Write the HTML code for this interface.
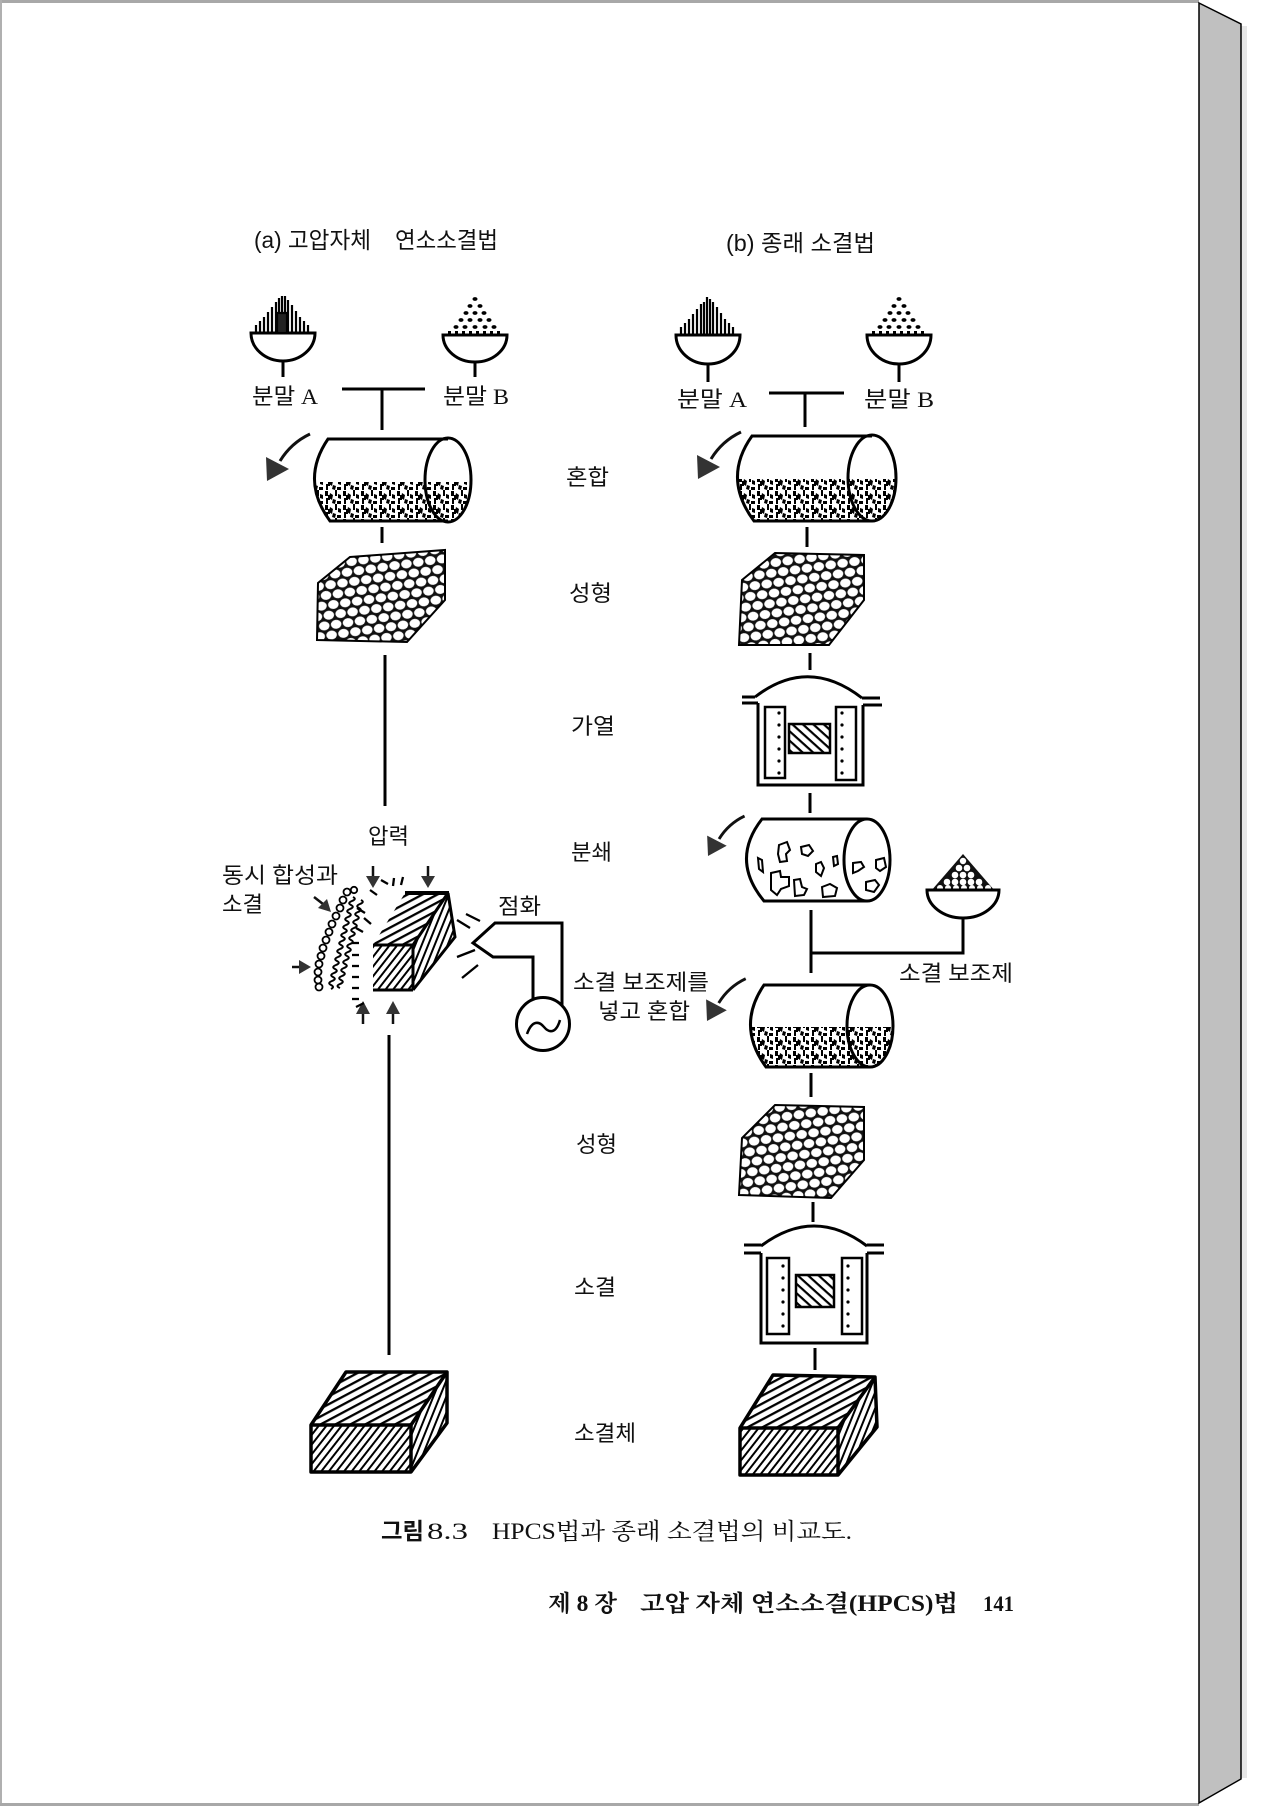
<!DOCTYPE html>
<html><head><meta charset="utf-8"><style>
html,body{margin:0;padding:0;background:#fff;}
svg{display:block;}
.lbl{font-family:"Liberation Serif","Noto Sans CJK KR",serif;font-size:22px;fill:#111;}
.ttl{font-family:"Liberation Sans","Noto Sans CJK KR",sans-serif;font-size:23px;fill:#111;}
</style></head><body>
<svg width="1273" height="1806" viewBox="0 0 1273 1806" xmlns="http://www.w3.org/2000/svg">
<defs>
<pattern id="hTop" width="7" height="7" patternUnits="userSpaceOnUse" patternTransform="rotate(-28)"><rect width="7" height="2.3" fill="#000"/></pattern>
<pattern id="hFront" width="6" height="6" patternUnits="userSpaceOnUse" patternTransform="rotate(-52)"><rect width="6" height="2" fill="#000"/></pattern>
<pattern id="hSide" width="6" height="6" patternUnits="userSpaceOnUse" patternTransform="rotate(-68)"><rect width="6" height="2" fill="#000"/></pattern>
<pattern id="hSamp" width="7" height="7" patternUnits="userSpaceOnUse" patternTransform="rotate(42)"><rect width="7" height="2.2" fill="#000"/></pattern>
<pattern id="peb" width="12" height="20" patternUnits="userSpaceOnUse" patternTransform="rotate(-8)">
<rect width="12" height="20" fill="#111"/>
<ellipse cx="6" cy="5" rx="5.3" ry="4.5" fill="#fff"/>
<ellipse cx="0" cy="15" rx="5.3" ry="4.5" fill="#fff"/>
<ellipse cx="12" cy="15" rx="5.3" ry="4.5" fill="#fff"/>
</pattern>
<pattern id="mot" width="18" height="14" patternUnits="userSpaceOnUse">
<rect width="18" height="14" fill="#fff"/>
<path d="M1 1h3v5h-3z M6 3l3 2-1 5-3-2z M11 0h2v6h-2z M14 4l3 1v4l-3-1z M2 8h4v2h-2v4h-2z M9 9l3 1-1 4-3-1z M13 11h4v3h-4z M4 5h2v3h-2z" fill="#000"/>
</pattern>
<clipPath id="cL"><path d="M448,439 L328,439 Q300,480 330,521 L448,521 Z"/><ellipse cx="448" cy="480" rx="23" ry="42"/></clipPath>
<clipPath id="cR1"><path d="M872,436 L752,436 Q722,478 754,521 L872,521 Z"/><ellipse cx="872" cy="478" rx="24" ry="43"/></clipPath>
<clipPath id="cR3"><path d="M870,985 L764,985 Q736,1026 766,1067 L870,1067 Z"/><ellipse cx="870" cy="1026" rx="23" ry="41"/></clipPath>
<clipPath id="pk1"><polygon points="350,557 445,550 445,600 407,642 317,640 318,583"/></clipPath>
<clipPath id="pk2"><polygon points="775,553 864,555 864,600 829,645 739,645 742,580"/></clipPath>
<clipPath id="pk3"><polygon points="775,1105 864,1107 864,1160 831,1198 739,1195 742,1138"/></clipPath>
</defs>

<!-- page frame -->
<rect x="0" y="0" width="1199" height="3" fill="#a8a8a8"/>
<rect x="0" y="0" width="2" height="1806" fill="#b0b0b0"/>
<rect x="0" y="1803" width="1199" height="3" fill="#a8a8a8"/>
<rect x="1241" y="26" width="6" height="1752" fill="#e6e6e6"/>
<polygon points="1199,3 1241,24 1241,1779 1199,1803" fill="#c0c0c0" stroke="#000" stroke-width="1.5"/>

<!-- titles -->
<text class="ttl" x="254" y="248" textLength="117" lengthAdjust="spacingAndGlyphs">(a) 고압자체</text>
<text class="ttl" x="395" y="248" textLength="103" lengthAdjust="spacingAndGlyphs">연소소결법</text>
<text class="ttl" x="726" y="251" textLength="149" lengthAdjust="spacingAndGlyphs">(b) 종래 소결법</text>

<g fill="none" stroke="#000" stroke-width="3" stroke-linecap="butt">
<!-- bowls -->
<path d="M251,333 L315,333 A32,28 0 0 1 251,333 Z"/><line x1="283" y1="361" x2="283" y2="377"/>
<path d="M443,335 L507,335 A32,27 0 0 1 443,335 Z"/><line x1="475" y1="362" x2="475" y2="377"/>
<path d="M676,335 L740,335 A32,29 0 0 1 676,335 Z"/><line x1="708" y1="364" x2="708" y2="382"/>
<path d="M867,335 L931,335 A32,29 0 0 1 867,335 Z"/><line x1="899" y1="364" x2="899" y2="382"/>
<!-- T connectors -->
<line x1="342" y1="389" x2="425" y2="389"/><line x1="382" y1="389" x2="382" y2="430"/>
<line x1="769" y1="393" x2="844" y2="393"/><line x1="805" y1="393" x2="805" y2="427"/>
<!-- left connectors -->
<line x1="382" y1="527" x2="382" y2="543"/>
<line x1="385" y1="655" x2="385" y2="806"/>
<line x1="389" y1="1035" x2="389" y2="1355"/>
<!-- right connectors -->
<line x1="807" y1="527" x2="807" y2="547"/>
<line x1="810" y1="653" x2="810" y2="670"/>
<line x1="810" y1="793" x2="810" y2="813"/>
<line x1="811" y1="910" x2="811" y2="973"/>
<polyline points="811,953 963,953 963,918"/>
<line x1="811" y1="1073" x2="811" y2="1097"/>
<line x1="813" y1="1202" x2="813" y2="1222"/>
<line x1="815" y1="1348" x2="815" y2="1370"/>
</g>

<!-- powders A -->
<g stroke="#000" stroke-width="2.2" fill="none">
<g transform="translate(283,333)">
<path d="M-27,0v-8 M-23,0v-12 M-19,0v-16 M-15,0v-21 M-11,0v-26 M-7,0v-31 M-4,0v-35 M-1,0v-37 M2,0v-37 M5,0v-33 M9,0v-28 M13,0v-22 M17,0v-16 M21,0v-12 M25,0v-8"/>
<path d="M-6,0v-20h10v20z" fill="#222"/>
</g>
<g transform="translate(708,335)">
<path d="M-27,0v-8 M-23,0v-12 M-19,0v-16 M-15,0v-21 M-11,0v-26 M-7,0v-31 M-4,0v-33 M-1,0v-38 M2,0v-36 M5,0v-33 M9,0v-28 M13,0v-22 M17,0v-16 M21,0v-12 M25,0v-8"/>
</g>
</g>
<!-- powders B -->
<g fill="#000">
<g transform="translate(475,335)">
<ellipse cx="0" cy="-36" rx="2.5" ry="1.9"/>
<ellipse cx="-5" cy="-29" rx="2.5" ry="1.9"/><ellipse cx="5" cy="-29" rx="2.5" ry="1.9"/>
<ellipse cx="-9" cy="-22" rx="2.5" ry="1.9"/><ellipse cx="0" cy="-22" rx="2.5" ry="1.9"/><ellipse cx="9" cy="-22" rx="2.5" ry="1.9"/>
<ellipse cx="-14" cy="-15" rx="2.5" ry="1.9"/><ellipse cx="-5" cy="-15" rx="2.5" ry="1.9"/><ellipse cx="5" cy="-15" rx="2.5" ry="1.9"/><ellipse cx="14" cy="-15" rx="2.5" ry="1.9"/>
<ellipse cx="-19" cy="-8" rx="2.5" ry="1.9"/><ellipse cx="-10" cy="-8" rx="2.5" ry="1.9"/><ellipse cx="0" cy="-8" rx="2.5" ry="1.9"/><ellipse cx="10" cy="-8" rx="2.5" ry="1.9"/><ellipse cx="19" cy="-8" rx="2.5" ry="1.9"/>
<path d="M-27,0v-4h3v4z M-20,0v-4h3v4z M-13,0v-4h3v4z M-6,0v-4h3v4z M1,0v-4h3v4z M8,0v-4h3v4z M15,0v-4h3v4z M22,0v-4h3v4z"/>
</g>
<g transform="translate(899,335)">
<ellipse cx="0" cy="-36" rx="2.5" ry="1.9"/>
<ellipse cx="-5" cy="-29" rx="2.5" ry="1.9"/><ellipse cx="5" cy="-29" rx="2.5" ry="1.9"/>
<ellipse cx="-9" cy="-22" rx="2.5" ry="1.9"/><ellipse cx="0" cy="-22" rx="2.5" ry="1.9"/><ellipse cx="9" cy="-22" rx="2.5" ry="1.9"/>
<ellipse cx="-14" cy="-15" rx="2.5" ry="1.9"/><ellipse cx="-5" cy="-15" rx="2.5" ry="1.9"/><ellipse cx="5" cy="-15" rx="2.5" ry="1.9"/><ellipse cx="14" cy="-15" rx="2.5" ry="1.9"/>
<ellipse cx="-19" cy="-8" rx="2.5" ry="1.9"/><ellipse cx="-10" cy="-8" rx="2.5" ry="1.9"/><ellipse cx="0" cy="-8" rx="2.5" ry="1.9"/><ellipse cx="10" cy="-8" rx="2.5" ry="1.9"/><ellipse cx="19" cy="-8" rx="2.5" ry="1.9"/>
<path d="M-27,0v-4h3v4z M-20,0v-4h3v4z M-13,0v-4h3v4z M-6,0v-4h3v4z M1,0v-4h3v4z M8,0v-4h3v4z M15,0v-4h3v4z M22,0v-4h3v4z"/>
</g>
</g>

<!-- cylinder contents -->
<rect x="300" y="482" width="175" height="42" fill="url(#mot)" clip-path="url(#cL)"/>
<rect x="720" y="479" width="180" height="45" fill="url(#mot)" clip-path="url(#cR1)"/>
<rect x="735" y="1027" width="165" height="43" fill="url(#mot)" clip-path="url(#cR3)"/>

<!-- cylinders -->
<g fill="none" stroke="#000" stroke-width="3">
<path d="M448,439 L328,439 Q300,480 330,521 L448,521"/><ellipse cx="448" cy="480" rx="23" ry="42"/>
<path d="M872,436 L752,436 Q722,478 754,521 L872,521"/><ellipse cx="872" cy="478" rx="24" ry="43"/>
<path d="M867,819 L762,819 Q730,860 764,901 L867,901"/><ellipse cx="867" cy="860" rx="23" ry="41"/>
<path d="M870,985 L764,985 Q736,1026 766,1067 L870,1067"/><ellipse cx="870" cy="1026" rx="23" ry="41"/>
</g>
<!-- crushed chunks -->
<g fill="#fff" stroke="#000" stroke-width="2">
<path d="M758,858 l4,2 1,12 -4,-3z"/>
<path d="M779,845 l8,-3 3,8 -4,4 1,7 -7,1 -2,-8z"/>
<path d="M801,847 l8,-2 4,6 -5,5 -6,-2z"/>
<path d="M816,864 l5,-2 3,6 -3,8 -5,-4z"/>
<path d="M833,857 l4,-1 1,8 -4,2z"/>
<path d="M771,873 l9,-2 1,6 8,0 0,9 -8,3 -4,6 -6,-5z"/>
<path d="M794,880 l6,-1 2,8 5,2 -3,6 -9,1z"/>
<path d="M822,887 l8,-3 7,4 -2,8 -12,1z"/>
<path d="M853,863 l8,-1 3,5 -6,4 -5,2z"/>
<path d="M876,860 l8,-2 2,9 -6,4 -4,-3z"/>
<path d="M866,882 l9,-2 4,5 -5,7 -8,-2z"/>
</g>

<!-- arrows -->
<g fill="#333" stroke="#111">
<g transform="translate(267,481)"><path d="M43,-47 Q24,-38 13,-20" fill="none" stroke-width="3"/><polygon points="0,0 -1,-24 22,-12" stroke="none"/></g>
<g transform="translate(698,479)"><path d="M43,-47 Q24,-38 13,-20" fill="none" stroke-width="3"/><polygon points="0,0 -1,-24 22,-12" stroke="none"/></g>
<g transform="translate(708,856) scale(0.85)"><path d="M43,-47 Q24,-38 13,-20" fill="none" stroke-width="3.4"/><polygon points="0,0 -1,-24 22,-12" stroke="none"/></g>
<g transform="translate(707,1021) scale(0.9)"><path d="M43,-47 Q24,-38 13,-20" fill="none" stroke-width="3.2"/><polygon points="0,0 -1,-24 22,-12" stroke="none"/></g>
</g>

<!-- compacts -->
<rect x="310" y="545" width="140" height="100" fill="url(#peb)" clip-path="url(#pk1)"/>
<polygon points="350,557 445,550 445,600 407,642 317,640 318,583" fill="none" stroke="#000" stroke-width="2"/>
<rect x="735" y="550" width="135" height="100" fill="url(#peb)" clip-path="url(#pk2)"/>
<polygon points="775,553 864,555 864,600 829,645 739,645 742,580" fill="none" stroke="#000" stroke-width="2"/>
<rect x="735" y="1100" width="135" height="100" fill="url(#peb)" clip-path="url(#pk3)"/>
<polygon points="775,1105 864,1107 864,1160 831,1198 739,1195 742,1138" fill="none" stroke="#000" stroke-width="2"/>

<!-- furnaces -->
<g fill="none" stroke="#000" stroke-width="3">
<path d="M755,697 Q808,656 862,698"/>
<line x1="742" y1="697" x2="755" y2="697"/><line x1="742" y1="703" x2="758" y2="703"/>
<line x1="862" y1="698" x2="880" y2="698"/><line x1="863" y1="705" x2="882" y2="705"/>
<polyline points="758,703 758,785 863,785 863,705"/>
<rect x="765" y="707" width="20" height="71" stroke-width="2.5"/>
<rect x="836" y="707" width="20" height="73" stroke-width="2.5"/>
<path d="M761,1246 Q814,1206 867,1246"/>
<line x1="744" y1="1245" x2="761" y2="1245"/><line x1="744" y1="1253" x2="761" y2="1253"/>
<line x1="867" y1="1245" x2="884" y2="1245"/><line x1="867" y1="1253" x2="884" y2="1253"/>
<polyline points="761,1253 761,1343 867,1343 867,1253"/>
<rect x="767" y="1258" width="22" height="76" stroke-width="2.5"/>
<rect x="842" y="1258" width="20" height="76" stroke-width="2.5"/>
</g>
<rect x="789" y="724" width="41" height="29" fill="url(#hSamp)" stroke="#000" stroke-width="2.5"/>
<rect x="796" y="1275" width="38" height="32" fill="url(#hSamp)" stroke="#000" stroke-width="2.5"/>
<g fill="#000">
<circle cx="779" cy="713" r="1.6"/><circle cx="779" cy="725" r="1.6"/><circle cx="779" cy="737" r="1.6"/><circle cx="779" cy="749" r="1.6"/><circle cx="779" cy="761" r="1.6"/><circle cx="779" cy="773" r="1.6"/>
<circle cx="842" cy="713" r="1.6"/><circle cx="842" cy="725" r="1.6"/><circle cx="842" cy="737" r="1.6"/><circle cx="842" cy="749" r="1.6"/><circle cx="842" cy="761" r="1.6"/><circle cx="842" cy="773" r="1.6"/>
<circle cx="783" cy="1266" r="1.6"/><circle cx="783" cy="1278" r="1.6"/><circle cx="783" cy="1290" r="1.6"/><circle cx="783" cy="1302" r="1.6"/><circle cx="783" cy="1314" r="1.6"/><circle cx="783" cy="1326" r="1.6"/>
<circle cx="848" cy="1266" r="1.6"/><circle cx="848" cy="1278" r="1.6"/><circle cx="848" cy="1290" r="1.6"/><circle cx="848" cy="1302" r="1.6"/><circle cx="848" cy="1314" r="1.6"/><circle cx="848" cy="1326" r="1.6"/>
</g>

<!-- additive bowl -->
<polygon points="963,854 931,891 995,891" fill="#111"/>
<g fill="#fff">
<circle cx="963" cy="861" r="3.2"/>
<circle cx="959" cy="868" r="3.3"/><circle cx="967" cy="868" r="3.3"/>
<circle cx="955" cy="875" r="3.3"/><circle cx="963" cy="875" r="3.3"/><circle cx="971" cy="875" r="3.3"/>
<circle cx="947" cy="882" r="3.3"/><circle cx="955" cy="882" r="3.3"/><circle cx="963" cy="882" r="3.3"/><circle cx="971" cy="882" r="3.3"/><circle cx="979" cy="882" r="3.3"/>
<circle cx="940" cy="888" r="3"/><circle cx="948" cy="888" r="3"/><circle cx="956" cy="888" r="3"/><circle cx="964" cy="888" r="3"/><circle cx="972" cy="888" r="3"/><circle cx="980" cy="888" r="3"/><circle cx="988" cy="888" r="3"/>
</g>
<path d="M927,890 L999,890 A36,28 0 0 1 927,890 Z" fill="none" stroke="#000" stroke-width="3"/>

<!-- final blocks -->
<polygon points="346,1372 447,1372 411,1425 311,1425" fill="url(#hTop)"/>
<rect x="311" y="1425" width="100" height="47" fill="url(#hFront)"/>
<polygon points="411,1425 447,1372 447,1423 411,1472" fill="url(#hSide)"/>
<g fill="none" stroke="#000" stroke-width="3.5" stroke-linejoin="round">
<polygon points="346,1372 447,1372 447,1423 411,1472 311,1472 311,1425"/>
<polyline points="311,1425 411,1425 447,1372"/><line x1="411" y1="1425" x2="411" y2="1472"/>
</g>
<polygon points="773,1375 875,1377 838,1428 740,1428" fill="url(#hTop)"/>
<rect x="740" y="1428" width="98" height="47" fill="url(#hFront)"/>
<polygon points="838,1428 875,1377 877,1427 838,1475" fill="url(#hSide)"/>
<g fill="none" stroke="#000" stroke-width="3.5" stroke-linejoin="round">
<polygon points="773,1375 875,1377 877,1427 838,1475 740,1475 740,1428"/>
<polyline points="740,1428 838,1428 875,1377"/><line x1="838" y1="1428" x2="838" y2="1475"/>
</g>

<!-- HPCS reaction figure -->
<polygon points="373,945 413,945 448,893 405,893" fill="url(#hTop)"/>
<rect x="373" y="945" width="40" height="45" fill="url(#hFront)"/>
<polygon points="413,945 448,893 455,937 413,990" fill="url(#hSide)"/>
<g fill="none" stroke="#000" stroke-width="3">
<line x1="405" y1="893" x2="449" y2="893" stroke-width="4"/>
<polyline points="448,893 455,937 413,990"/>
<polyline points="373,945 413,945 448,893"/>
<line x1="413" y1="945" x2="413" y2="990"/>
<line x1="373" y1="990" x2="413" y2="990"/>
</g>
<!-- wavy reaction layers -->
<g fill="#fff" stroke="#000" stroke-width="1.8">
<circle cx="347" cy="892" r="3.5"/><circle cx="354" cy="890" r="3.2"/><circle cx="343" cy="900" r="3.5"/><circle cx="340" cy="908" r="3.5"/><circle cx="336" cy="916" r="3.5"/><circle cx="332" cy="924" r="3.5"/><circle cx="329" cy="932" r="3.5"/><circle cx="326" cy="940" r="3.5"/><circle cx="323" cy="948" r="3.5"/><circle cx="321" cy="956" r="3.5"/><circle cx="319" cy="964" r="3.5"/><circle cx="318" cy="972" r="3.5"/><circle cx="318" cy="980" r="3.5"/><circle cx="319" cy="987" r="3.5"/>
</g>
<g fill="none" stroke="#000" stroke-width="2">
<path d="M353,897 q4,2 -1,4 t-1,4 t-1,4 t-1,4 t-1,4 t-1,4 t-1,4 t-1,4 t-1,4 t-1,4 t-1,4 t-1,4 t-1,4 t-1,4 t-1,4 t-1,4 t-1,4 t-1,4 t-1,4 t-1,4 t-1,4 t-1,4 t0,4"/>
<path d="M361,900 q4,2 -1,4 t-1,4 t-1,4 t-1,4 t-1,4 t-1,4 t-1,4 t-1,4 t-1,4 t-1,4 t-1,4 t-1,4 t-1,4 t-1,4 t-1,4 t-1,4 t-1,4 t-1,4 t-1,4 t-1,4 t-1,4 t0,4"/>
</g>
<!-- small arrows -->
<g stroke="#111" stroke-width="2.5" fill="#333">
<line x1="373" y1="866" x2="373" y2="877"/><polygon points="366,876 380,876 373,888" stroke="none"/>
<line x1="428" y1="866" x2="428" y2="877"/><polygon points="421,876 435,876 428,888" stroke="none"/>
<line x1="363" y1="1013" x2="363" y2="1024"/><polygon points="356,1014 370,1014 363,1001" stroke="none"/>
<line x1="393" y1="1013" x2="393" y2="1024"/><polygon points="386,1014 400,1014 393,1001" stroke="none"/>
<line x1="292" y1="967" x2="301" y2="967"/><polygon points="299,960 299,974 311,967" stroke="none"/>
<line x1="314" y1="897" x2="323" y2="904"/><polygon points="331,912 318,908 327,899" stroke="none"/>
</g>
<!-- dashes / sparks -->
<g stroke="#000" stroke-width="2.3" fill="none">
<line x1="381" y1="880" x2="388" y2="884"/><line x1="394" y1="878" x2="393" y2="886"/><line x1="403" y1="877" x2="401" y2="885"/>
<line x1="370" y1="890" x2="377" y2="895"/><line x1="357" y1="908" x2="365" y2="913"/><line x1="364" y1="918" x2="371" y2="924"/><line x1="356" y1="928" x2="363" y2="932"/>
<line x1="352" y1="943" x2="359" y2="943"/><line x1="352" y1="955" x2="359" y2="955"/><line x1="352" y1="966" x2="359" y2="966"/><line x1="352" y1="977" x2="359" y2="977"/><line x1="352" y1="988" x2="359" y2="988"/><line x1="352" y1="999" x2="359" y2="999"/>
<line x1="356" y1="1007" x2="364" y2="1003"/>
<line x1="457" y1="920" x2="470" y2="928"/><line x1="466" y1="914" x2="480" y2="921"/>
<line x1="457" y1="957" x2="475" y2="950"/><line x1="462" y1="978" x2="478" y2="965"/>
</g>
<!-- igniter -->
<g fill="none" stroke="#000" stroke-width="3">
<polyline points="562,1006 562,923 495,923 473,943 493,957 533,957 533,1000"/>
<circle cx="543" cy="1024" r="26.5"/>
<path d="M527,1034 C532,1020 539,1021 544,1027 S556,1034 560,1020" stroke-width="2.5"/>
</g>

<!-- labels -->
<text class="lbl" x="252" y="404" textLength="66" lengthAdjust="spacingAndGlyphs">분말 A</text>
<text class="lbl" x="443" y="404" textLength="66" lengthAdjust="spacingAndGlyphs">분말 B</text>
<text class="lbl" x="677" y="407" textLength="70" lengthAdjust="spacingAndGlyphs">분말 A</text>
<text class="lbl" x="864" y="407" textLength="70" lengthAdjust="spacingAndGlyphs">분말 B</text>
<text class="lbl" x="566" y="485" textLength="43" lengthAdjust="spacingAndGlyphs">혼합</text>
<text class="lbl" x="569" y="601" textLength="43" lengthAdjust="spacingAndGlyphs">성형</text>
<text class="lbl" x="571" y="734" textLength="44" lengthAdjust="spacingAndGlyphs">가열</text>
<text class="lbl" x="571" y="860" textLength="41" lengthAdjust="spacingAndGlyphs">분쇄</text>
<text class="lbl" x="368" y="844" textLength="41" lengthAdjust="spacingAndGlyphs">압력</text>
<text class="lbl" x="222" y="883" textLength="116" lengthAdjust="spacingAndGlyphs">동시 합성과</text>
<text class="lbl" x="222" y="912" textLength="41" lengthAdjust="spacingAndGlyphs">소결</text>
<text class="lbl" x="498" y="914" textLength="43" lengthAdjust="spacingAndGlyphs">점화</text>
<text class="lbl" x="573" y="990" textLength="136" lengthAdjust="spacingAndGlyphs">소결 보조제를</text>
<text class="lbl" x="598" y="1019" textLength="92" lengthAdjust="spacingAndGlyphs">넣고 혼합</text>
<text class="lbl" x="899" y="981" textLength="114" lengthAdjust="spacingAndGlyphs">소결 보조제</text>
<text class="lbl" x="576" y="1152" textLength="41" lengthAdjust="spacingAndGlyphs">성형</text>
<text class="lbl" x="574" y="1295" textLength="42" lengthAdjust="spacingAndGlyphs">소결</text>
<text class="lbl" x="574" y="1441" textLength="62" lengthAdjust="spacingAndGlyphs">소결체</text>

<!-- caption & footer -->
<text x="381" y="1539" textLength="43" lengthAdjust="spacingAndGlyphs" style="font-family:'Liberation Sans','Noto Sans CJK KR',sans-serif;font-weight:bold;font-size:23px;fill:#111">그림</text>
<text x="427" y="1539" textLength="41" lengthAdjust="spacingAndGlyphs" style="font-family:'Liberation Serif','Noto Sans CJK KR',serif;font-size:23px;fill:#111">8.3</text>
<text x="492" y="1539" textLength="360" lengthAdjust="spacingAndGlyphs" style="font-family:'Liberation Serif','Noto Serif CJK SC',serif;font-size:23px;fill:#111">HPCS법과 종래 소결법의 비교도.</text>
<text x="548" y="1611" textLength="69" lengthAdjust="spacingAndGlyphs" style="font-family:'Liberation Serif','Noto Serif CJK SC',serif;font-size:23px;font-weight:bold;fill:#111">제 8 장</text>
<text x="640" y="1611" textLength="318" lengthAdjust="spacingAndGlyphs" style="font-family:'Liberation Serif','Noto Serif CJK SC',serif;font-size:23px;font-weight:bold;fill:#111">고압 자체 연소소결(HPCS)법</text>
<text x="983" y="1611" textLength="31" lengthAdjust="spacingAndGlyphs" style="font-family:'Liberation Serif',serif;font-size:22px;font-weight:bold;fill:#111">141</text>
</svg>
</body></html>
